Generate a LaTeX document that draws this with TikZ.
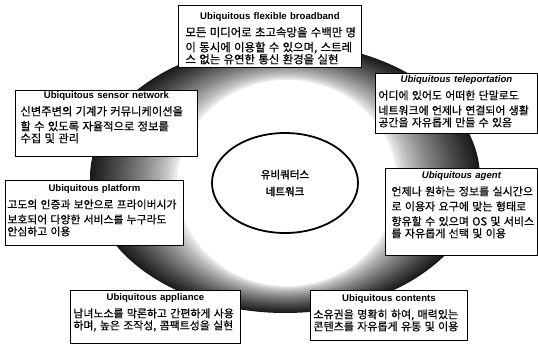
\documentclass[tikz,border=0pt]{standalone}
\usepackage{fontspec}
\setmainfont{Liberation Sans}
\newfontfamily\kr{Noto Sans CJK KR}[FakeBold=0.5]
\newfontfamily\krb{Noto Sans CJK KR}[FakeBold=2]
\usetikzlibrary{shapes.geometric}
\tikzset{
  box/.style={draw, line width=0.9pt, fill=white, anchor=north west, inner ysep=1pt},
  core/.style={draw, ellipse, line width=1.8pt, fill=white, align=center, inner sep=0pt,
    font=\krb\fontsize{10.5}{17}\selectfont}
}
\newcommand\ttl[1]{{\centering\fontsize{9.6}{15}\selectfont\bfseries #1\par}\vspace{2pt}}
\newcommand\ttli[1]{{\centering\fontsize{9.6}{15}\selectfont\bfseries\itshape #1\par}\vspace{2pt}}
\newcommand\bodyf[1]{\raggedright\kr\fontsize{#1}{15}\selectfont}
\begin{document}
\begin{tikzpicture}[x=1pt,y=1pt]
\useasboundingbox (0,0) rectangle (538,-350);
% ring
\foreach \i in {0,...,30}{
  \pgfmathsetmacro\t{\i/30}
  \pgfmathsetmacro\rx{195-85*\t}
  \pgfmathsetmacro\ry{135-32*\t}
  \pgfmathsetmacro\cx{285+2*\t}
  \pgfmathsetmacro\cy{-178-5*\t}
  \pgfmathtruncatemacro\c{90*(1-\t)^0.7}
  \fill[black!\c] (\cx,\cy) ellipse [x radius=\rx pt, y radius=\ry pt];
}
\node[core, minimum width=146pt, minimum height=100pt] (net) at (285,-183)
  {유비쿼터스\\네트워크};
% boxes
\node[box, inner xsep=7pt, text width=169pt, text height=13pt, text depth=47pt] (bb) at (178,-5)
  {\ttl{Ubiquitous flexible broadband}\bodyf{11.4}%
   \mbox{모든 미디어로 초고속망을 수백만 명}\\\mbox{이 동시에 이용할 수 있으며, 스트레}\\\mbox{스 없는 유연한 통신 환경을 실현}};
\node[box, inner xsep=5pt, text width=172pt, text height=7pt, text depth=57pt] (sn) at (15,-90)
  {\ttl{Ubiquitous sensor network}\bodyf{11.3}%
   \mbox{신변주변의 기계가 커뮤니케이션을}\\\mbox{할 수 있도록 자율적으로 정보를}\\\mbox{수집 및 관리}};
\node[box, inner xsep=3pt, text width=156pt, text height=8pt, text depth=50pt] (tp) at (375,-73)
  {\ttli{Ubiquitous teleportation}\bodyf{10.9}%
   \mbox{어디에 있어도 어떠한 단말로도}\\\mbox{네트워크에 언제나 연결되어 생활}\\\mbox{공간을 자유롭게 만들 수 있음}};
\node[box, inner xsep=2pt, text width=174pt, text height=10pt, text depth=53pt] (pf) at (5,-180)
  {\ttl{Ubiquitous platform}\bodyf{10.8}%
   \mbox{고도의 인증과 보안으로 프라이버시가}\\\mbox{보호되어 다양한 서비스를 누구라도}\\\mbox{안심하고 이용}};
\node[box, inner xsep=6pt, text width=140pt, text height=9pt, text depth=76pt] (ag) at (385,-168)
  {\ttli{Ubiquitous agent}\bodyf{11.0}%
   \mbox{언제나 원하는 정보를 실시간으}\\\mbox{로 이용자 요구에 맞는 형태로}\\\mbox{향유할 수 있으며 OS 및 서비스}\\\mbox{를 자유롭게 선택 및 이용}};
\node[box, inner xsep=3pt, text width=164pt, text height=9pt, text depth=42pt] (ap) at (70,-290)
  {\ttl{Ubiquitous appliance}\bodyf{10.9}%
   \mbox{남녀노소를 막론하고 간편하게 사용}\\\mbox{하며, 높은 조작성, 콤팩트성을 실현}};
\node[box, inner xsep=3pt, text width=151pt, text height=10pt, text depth=38pt] (ct) at (310,-290)
  {\ttl{Ubiquitous contents}\bodyf{11.0}%
   \mbox{소유권을 명확히 하여, 매력있는}\\\mbox{콘텐츠를 자유롭게 유통 및 이용}};
\end{tikzpicture}
\end{document}
